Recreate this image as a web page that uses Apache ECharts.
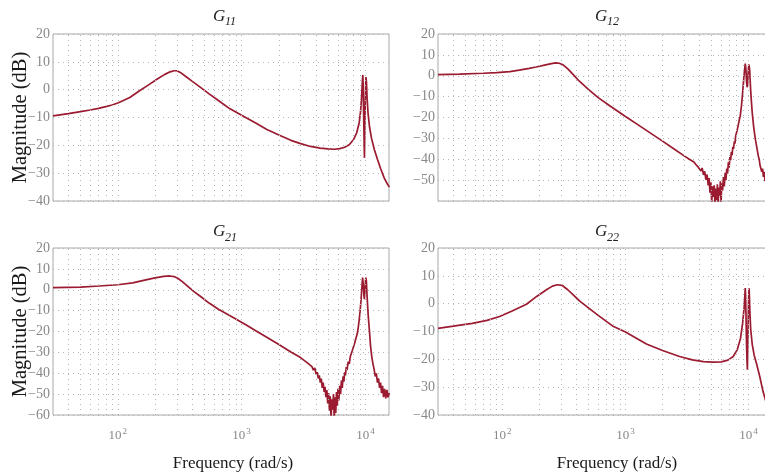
<!DOCTYPE html>
<html><head><meta charset="utf-8">
<script src="https://cdn.jsdelivr.net/npm/echarts@6/dist/echarts.min.js"></script>
<style>html,body{margin:0;padding:0;background:#fff}#c{width:765px;height:472px}</style>
</head><body><div id="c"></div>
<script>
// ---- data (frequency in rad/s, magnitude in dB) ----
const g11Freq = [30,40,50,60,70,80,90,100,110,125,150,180,210,240,265,285,300,320,350,400,460,550,650,800,1000,1300,1600,2000,2500,3000,3600,4300,5000,5600,6200,6800,7400,8000,8500,8900,9150,9300,9400,9480,9530,9570,9620,9700,9780,9820,9850,9900,9970,10050,10100,10150,10200,10300,10500,10800,11200,11800,12500,13300,14200,15000,15600];
const g11Mag  = [-9.4,-8.6,-7.9,-7.3,-6.7,-6.1,-5.5,-4.8,-4.0,-2.8,-0.4,1.9,3.9,5.5,6.4,6.8,6.8,6.2,4.9,3.0,1.0,-1.6,-3.9,-6.8,-9.2,-12.0,-14.3,-16.3,-18.2,-19.4,-20.4,-21.0,-21.3,-21.4,-21.2,-20.7,-19.8,-18.0,-15.5,-12.0,-7.5,-3.0,1.0,4.0,5.3,3.0,-3.0,-12.0,-21.0,-24.5,-20.0,-12.0,-4.0,2.0,4.5,5.0,2.5,-2.5,-8.5,-13.5,-17.5,-21.5,-25.0,-28.5,-31.8,-33.8,-35.0];

const g12Freq = [30,45,70,90,115,137,165,188,220,250,270,290,310,340,370,420,500,600,750,1000,1250,1500,2000,2500,3000,3300,3600,
  3700,3800,3900,4000,4100,4200,4300,4400,4500,4600,4700,4780,4860,4940,5020,5100,5180,5260,5340,5420,5500,5580,5660,5740,5820,5900,5980,6060,6150,6250,6350,6450,6550,6650,6750,6850,6950,7050,7150,7250,7350,7450,7550,7650,7750,7850,7950,8050,8150,8250,8350,8450,8550,8650,8750,8850,8950,9050,9150,9250,9330,9400,9450,9520,9600,9680,9760,9830,9900,9980,10050,10120,10200,10300,10400,10550,10700,10850,11000,11200,11400,11600,11800,12000,12200,12400,12600,12800,13000,13200,13400,13600,13800,14000,14300,14600,15000,15600];
const g12Mag  = [0.5,0.8,1.2,1.5,2.0,2.7,3.5,4.2,5.1,5.8,6.2,6.0,5.3,3.3,1.0,-2.5,-6.5,-10.5,-14.5,-19.5,-23.3,-26.4,-31.3,-35.2,-38.4,-40.0,-41.3,
  -42.3,-41.6,-43.8,-43.0,-45.6,-44.2,-47.5,-45.8,-49.8,-47.3,-52.5,-49.0,-56.0,-51.0,-60.5,-53.0,-58.0,-52.5,-62.0,-54.0,-59.5,-52.0,-61.5,-53.5,-57.5,-50.5,-60.5,-51.5,-55.0,-48.5,-53.0,-46.5,-50.0,-44.5,-46.8,-41.5,-44.0,-39.0,-40.5,-36.5,-38.0,-34.0,-35.0,-31.5,-32.5,-29.0,-29.8,-26.5,-27.0,-23.5,-23.8,-20.5,-19.5,-17.0,-14.5,-11.5,-8.0,-4.5,-1.0,2.0,4.0,5.8,6.0,3.0,-1.5,-4.5,-5.5,-3.5,0.5,3.5,5.5,5.8,3.0,-2.0,-7.0,-12.5,-17.5,-21.0,-24.5,-28.0,-31.0,-33.5,-36.0,-38.5,-40.0,-43.0,-42.5,-46.0,-44.5,-48.5,-46.0,-50.5,-47.0,-52.0,-48.5,-53.0,-50.0,-52.0];

const g21Freq = [30,50,71,100,132,165,200,235,263,285,305,330,370,410,461,550,650,855,1100,1300,1610,2000,2500,2990,3400,3700,
  3800,3900,4000,4080,4160,4240,4320,4400,4480,4560,4640,4720,4800,4880,4960,5040,5120,5200,5280,5360,5440,5520,5600,5680,5760,5840,5920,6000,6100,6200,6300,6400,6500,6600,6700,6800,6900,7000,7100,7250,7400,7550,7700,7850,8000,8150,8300,8450,8600,8750,8900,9050,9200,9320,9420,9500,9560,9640,9720,9800,9870,9940,10020,10100,10180,10280,10400,10550,10750,11000,11250,11500,11750,12000,12250,12500,12750,13000,13250,13500,13750,14000,14300,14600,14900,15200,15600];
const g21Mag  = [1.0,1.3,1.8,2.4,3.3,4.6,5.7,6.4,6.6,6.3,5.5,4.0,1.5,-0.8,-3.0,-6.5,-9.3,-13.3,-17.0,-19.6,-22.9,-26.2,-29.8,-32.5,-35.0,-36.8,
  -38.5,-37.5,-40.5,-39.5,-42.5,-41.0,-44.5,-42.5,-47.0,-44.5,-49.0,-46.5,-51.5,-48.0,-54.5,-49.5,-58.0,-51.0,-61.5,-52.5,-57.5,-50.0,-62.0,-51.5,-59.0,-49.0,-55.5,-47.5,-53.0,-46.0,-50.0,-43.5,-47.0,-41.5,-44.0,-39.5,-41.0,-37.0,-38.5,-34.5,-35.5,-32.0,-32.8,-29.0,-29.5,-26.0,-25.5,-22.5,-21.0,-18.0,-14.5,-10.5,-5.5,-0.5,3.5,5.8,5.5,1.0,-2.5,-4.5,-2.0,1.5,4.5,5.8,4.0,-1.5,-7.0,-13.0,-19.0,-27.0,-32.0,-35.5,-38.0,-41.5,-40.0,-44.5,-42.5,-47.0,-44.5,-49.5,-46.0,-51.5,-47.5,-52.0,-48.0,-51.5,-49.5];

const g22Freq = [30,40,57,75,95,120,157,190,228,255,280,305,340,380,423,500,600,785,1000,1480,2000,2750,3500,4300,5100,6000,6800,7500,8100,8600,8950,9200,9330,9400,9450,9520,9600,9700,9780,9830,9900,9980,10050,10100,10160,10250,10400,10700,11100,11600,12300,13100,14000,15000];
const g22Mag  = [-8.9,-8.1,-7.1,-6.0,-4.6,-2.6,-0.2,2.6,5.0,6.3,6.8,6.6,5.0,3.0,1.0,-1.5,-4.2,-8.0,-10.2,-14.5,-16.8,-19.0,-20.2,-20.8,-21.0,-20.9,-20.3,-19.0,-16.5,-12.5,-7.0,-1.5,3.0,5.6,3.5,-3.0,-12.0,-20.0,-23.7,-18.0,-9.0,-1.0,4.0,5.5,2.5,-3.0,-9.0,-14.5,-18.5,-21.5,-26.0,-31.5,-36.0,-39.0];

// axis ticks / labels
const panelTitles = ['11','12','21','22'];
const yRanges = [[-40,20],[-60,20],[-60,20],[-40,20]];
const yTickLabels = [
  [20,10,0,-10,-20,-30,-40],
  [20,10,0,-10,-20,-30,-40,-50],
  [20,10,0,-10,-20,-30,-40,-50,-60],
  [20,10,0,-10,-20,-30,-40]
];
const xTickLabels = [100,1000,10000];
const xRange = [30,15500];
const minorGridFreqs = [40,50,60,70,80,90,100,200,300,400,500,600,700,800,900,1000,2000,3000,4000,5000,6000,7000,8000,9000,10000];
const yLabel = 'Magnitude (dB)';
const xLabel = 'Frequency (rad/s)';

// ---- chart ----
const curves = [[g11Freq,g11Mag],[g12Freq,g12Mag],[g21Freq,g21Mag],[g22Freq,g22Mag]];
const SERIF = "'Liberation Serif', 'DejaVu Serif', serif";
const LINE = '#9b1b30';
const GRIDC = '#b4b4b4';

const grids = [
  {left:53, top:34, width:336, height:167},
  {left:438, top:34, width:334, height:167},
  {left:53, top:248, width:336, height:167},
  {left:438, top:248, width:334, height:167}
].map(g => Object.assign({show:true, borderColor:'#a8a8a8', borderWidth:1, backgroundColor:'transparent', containLabel:false, outerBoundsMode:'none'}, g));

function fmtY(list){
  return v => list.indexOf(v) >= 0 ? (v < 0 ? '\u2212' + Math.abs(v) : String(v)) : '';
}
function fmtX(v){
  for (const t of xTickLabels){
    if (Math.abs(v - t) < t*1e-6) return '10{sup|' + Math.round(Math.log10(t)) + '}';
  }
  return '';
}

const xAxes = grids.map((g,i) => ({
  type:'log', logBase:10, gridIndex:i, min:xRange[0], max:xRange[1],
  axisLine:{show:false}, axisTick:{show:false}, splitLine:{show:false},
  axisLabel:{
    show: i >= 2, formatter: fmtX, margin: 12, color:'#888', fontFamily:SERIF, fontSize:13,
    showMinLabel:true, showMaxLabel:true,
    rich:{ sup:{fontSize:9, fontFamily:SERIF, color:'#888', padding:[0,0,9,1]} }
  }
}));

const yAxes = grids.map((g,i) => ({
  type:'value', gridIndex:i, min:yRanges[i][0], max:yRanges[i][1], interval:10,
  axisLine:{show:false}, axisTick:{show:false},
  splitLine:{show:true, lineStyle:{type:[1,4], color:GRIDC, width:1}},
  axisLabel:{formatter: fmtY(yTickLabels[i]), color:'#888', fontFamily:SERIF, fontSize:14, margin:3},
  name: (i % 2 === 0) ? yLabel : '', nameLocation:'middle', nameGap:22, nameMoveOverlap:false,
  nameTextStyle:{fontFamily:SERIF, fontSize:20.5, color:'#1a1a1a'}
}));

const series = [];
curves.forEach((c,i) => {
  series.push({
    type:'line', xAxisIndex:i, yAxisIndex:i, data:[], silent:true, z:1,
    markLine:{silent:true, symbol:['none','none'], label:{show:false}, animation:false,
      lineStyle:{type:[1,4], color:GRIDC, width:1},
      emphasis:{disabled:true},
      data: minorGridFreqs.map(f => ({xAxis:f}))}
  });
  series.push({
    type:'line', xAxisIndex:i, yAxisIndex:i, z:3,
    data: c[0].map((f,k) => [f, c[1][k]]),
    showSymbol:false, clip:true,
    lineStyle:{color:LINE, width:1.7}
  });
});

// titles G_ij as italic G plus subscript
const titlePos = [[213,25],[595,25],[213,240.5],[595,240.5]];
const graphic = [];
panelTitles.forEach((s,i) => {
  const [x,b] = titlePos[i];
  graphic.push({type:'text', x:x, y:b, style:{text:'G', font:'italic 17px ' + SERIF, fill:'#222', textAlign:'left', textVerticalAlign:'bottom'}});
  graphic.push({type:'text', x:x+12, y:b+3, style:{text:s, font:'italic 12px ' + SERIF, fill:'#222', textAlign:'left', textVerticalAlign:'bottom'}});
});
[233, 617].forEach(cx => {
  graphic.push({type:'text', x:cx, y:455, style:{text:xLabel, font:'17px ' + SERIF, fill:'#1a1a1a', textAlign:'center', textVerticalAlign:'top'}});
});

const chart = echarts.init(document.getElementById('c'), null, {renderer:'canvas'});
chart.setOption({
  animation:false,
  backgroundColor:'#fff',
  grid: grids, xAxis: xAxes, yAxis: yAxes, series: series, graphic: graphic
});
</script></body></html>
